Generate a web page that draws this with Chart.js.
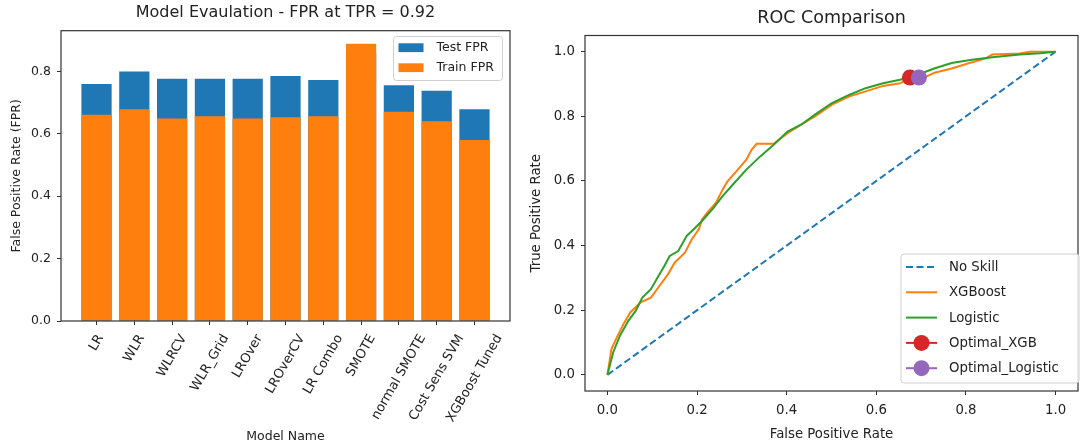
<!DOCTYPE html>
<html>
<head>
<meta charset="utf-8">
<script src="https://cdn.jsdelivr.net/npm/chart.js@4.4.1/dist/chart.umd.min.js"></script>
<style>
  html, body { margin: 0; padding: 0; background: #fff; }
  #wrap { position: relative; width: 1086px; height: 448px; overflow: hidden; }
  #fpr { position: absolute; left: 0; top: 0; }
  #roc { position: absolute; left: 520px; top: 0; }
</style>
</head>
<body>
<div id="wrap">
  <canvas id="fpr" width="520" height="448"></canvas>
  <canvas id="roc" width="566" height="448"></canvas>
</div>
<script>
// ---- data: left panel (FPR at TPR = 0.92) ----
const modelNames = ['LR','WLR','WLRCV','WLR_Grid','LROver','LROverCV','LR Combo','SMOTE','normal SMOTE','Cost Sens SVM','XGBoost Tuned'];
const testFpr  = [0.759,0.799,0.776,0.776,0.776,0.785,0.772,0.860,0.755,0.738,0.678];
const trainFpr = [0.661,0.678,0.649,0.656,0.649,0.653,0.656,0.888,0.670,0.640,0.580];
const fprTicks = [0, 0.2, 0.4, 0.6, 0.8];

// ---- data: right panel (ROC) ----
const noSkillFpr = [0, 1];
const noSkillTpr = [0, 1];
const xgbFpr = [0,0.009,0.021,0.036,0.051,0.074,0.097,0.116,0.135,0.150,0.173,0.188,0.204,0.211,0.226,0.242,0.257,0.268,0.291,0.310,
                0.322,0.333,0.371,0.402,0.432,0.463,0.501,0.539,0.576,0.615,0.653,0.675,0.707,0.730,0.768,0.806,0.844,0.859,0.920,0.943,1.0];
const xgbTpr = [0,0.080,0.116,0.157,0.193,0.224,0.239,0.275,0.311,0.347,0.378,0.419,0.450,0.481,0.507,0.532,0.573,0.599,0.635,0.666,
                0.697,0.715,0.715,0.748,0.774,0.800,0.836,0.861,0.877,0.894,0.902,0.918,0.920,0.935,0.948,0.964,0.979,0.991,0.994,1.0,1.0];
const logFpr = [0,0.013,0.028,0.047,0.063,0.078,0.097,0.112,0.127,0.139,0.158,0.177,0.192,0.211,0.234,0.257,0.280,0.310,0.341,0.371,
                0.402,0.432,0.463,0.501,0.539,0.576,0.615,0.653,0.691,0.729,0.768,0.813,0.859,0.920,0.966,1.0];
const logTpr = [0,0.070,0.121,0.168,0.198,0.239,0.265,0.301,0.337,0.368,0.383,0.430,0.450,0.476,0.512,0.553,0.589,0.635,0.676,0.712,
                0.753,0.774,0.805,0.841,0.866,0.887,0.902,0.913,0.928,0.948,0.965,0.975,0.983,0.991,0.995,1.0];
const optXgbFpr = [0.675], optXgbTpr = [0.92];
const optLogFpr = [0.695], optLogTpr = [0.92];
const rocTicks = [0, 0.2, 0.4, 0.6, 0.8, 1.0];

const FAM = "'DejaVu Sans', sans-serif";
const INK = '#222';
const pts = (xs, ys) => xs.map((x, i) => ({x, y: ys[i]}));

// matplotlib-like frame around the plot area
const frame = {
  id: 'frame',
  afterDatasetsDraw(chart) {
    const {ctx, chartArea: a} = chart;
    ctx.save();
    ctx.strokeStyle = '#333';
    ctx.lineWidth = 1.2;
    ctx.strokeRect(a.left, a.top, a.right - a.left, a.bottom - a.top);
    ctx.restore();
  }
};

// title centred over the plot area (like matplotlib), not over the canvas
const axTitle = {
  id: 'axTitle',
  afterDraw(chart, args, o) {
    const {ctx, chartArea: a} = chart;
    ctx.save();
    ctx.font = o.font;
    ctx.fillStyle = INK;
    ctx.textAlign = 'center';
    ctx.textBaseline = 'middle';
    ctx.fillText(o.text, (a.left + a.right) / 2, o.y);
    ctx.restore();
  }
};

// rotated category labels whose bounding box is centred on the tick (ha='center')
const rotLabels = {
  id: 'rotLabels',
  afterDraw(chart, args, o) {
    const s = chart.scales.x, ctx = chart.ctx;
    const ang = o.angle * Math.PI / 180, c = Math.cos(ang), sn = Math.sin(ang);
    ctx.save();
    ctx.font = o.font;
    ctx.fillStyle = INK;
    ctx.textAlign = 'left';
    ctx.textBaseline = 'middle';
    s.ticks.forEach(t => {
      const txt = modelNames[t.value];
      const L = ctx.measureText(txt).width;
      const px = s.getPixelForValue(t.value) - L * c / 2;
      const py = chart.chartArea.bottom + o.gap + L * sn + o.h / 2 * c;
      ctx.save();
      ctx.translate(px, py);
      ctx.rotate(-ang);
      ctx.fillText(txt, 0, 0);
      ctx.restore();
    });
    ctx.restore();
  }
};

// legend box drawn inside the axes, rows follow dataset index order
const boxLegend = {
  id: 'boxLegend',
  afterDraw(chart, args, o) {
    const ctx = chart.ctx;
    ctx.save();
    ctx.beginPath();
    ctx.roundRect(o.x, o.y, o.w, o.h, 3);
    ctx.fillStyle = 'rgba(255,255,255,0.85)';
    ctx.fill();
    ctx.strokeStyle = '#cfcfcf';
    ctx.lineWidth = 1;
    ctx.stroke();
    ctx.font = o.font;
    ctx.textBaseline = 'middle';
    chart.data.datasets.forEach((ds, i) => {
      const cy = o.y + o.first + i * o.step;
      const hx = o.x + o.hx;
      if (chart.config.type === 'bar') {
        ctx.fillStyle = ds.backgroundColor;
        ctx.fillRect(hx, cy - o.ph / 2, o.hw, o.ph);
      } else {
        ctx.strokeStyle = ds.borderColor;
        ctx.lineWidth = ds.borderWidth;
        ctx.setLineDash(ds.borderDash || []);
        ctx.beginPath();
        ctx.moveTo(hx, cy); ctx.lineTo(hx + o.hw, cy);
        ctx.stroke();
        ctx.setLineDash([]);
        if (ds.pointRadius > 0) {
          ctx.fillStyle = ds.pointBackgroundColor;
          ctx.beginPath();
          ctx.arc(hx + o.hw / 2, cy, ds.pointRadius, 0, Math.PI * 2);
          ctx.fill();
        }
      }
      ctx.fillStyle = INK;
      ctx.fillText(ds.label, o.x + o.tx, cy + 0.5);
    });
    ctx.restore();
  }
};

// ═══════════ left: Model Evaluation bars ═══════════
new Chart(document.getElementById('fpr'), {
  type: 'bar',
  data: {
    datasets: [
      {label: 'Test FPR',  data: pts(modelNames.map((_, i) => i), testFpr),  backgroundColor: '#1f77b4', order: 1},
      {label: 'Train FPR', data: pts(modelNames.map((_, i) => i), trainFpr), backgroundColor: '#ff7f0e', order: 0}
    ]
  },
  options: {
    responsive: false,
    animation: false,
    events: [],
    datasets: {bar: {grouped: false, barPercentage: 0.8, categoryPercentage: 1, borderWidth: 0}},
    layout: {padding: {left: 0, right: 10, top: 30.7, bottom: 0}},
    plugins: {
      legend: {display: false},
      tooltip: {enabled: false},
      title: {display: false},
      axTitle: {text: 'Model Evaulation - FPR at TPR = 0.92', y: 13, font: `16px ${FAM}`},
      rotLabels: {angle: 60, gap: 11, h: 15, font: `13px ${FAM}`},
      boxLegend: {x: 393.5, y: 36.5, w: 109, h: 44, first: 11.2, step: 20, hx: 5, hw: 25, ph: 8.8, tx: 43,
                  font: `12.5px ${FAM}`}
    },
    scales: {
      x: {
        type: 'linear', min: -0.94, max: 10.94, offset: false,
        afterBuildTicks: a => { a.ticks = modelNames.map((_, i) => ({value: i})); },
        afterFit: s => { s.height = 127; },
        ticks: {display: false},
        grid: {drawOnChartArea: false, offset: false, tickLength: 4, color: '#333'},
        border: {display: false},
        title: {display: true, text: 'Model Name', color: INK, font: {family: FAM, size: 12.5},
                padding: {top: 0, bottom: 3.8}}
      },
      y: {
        min: 0, max: 0.93,
        afterBuildTicks: a => { a.ticks = fprTicks.map(v => ({value: v})); },
        afterFit: s => { s.width = 61; },
        ticks: {callback: v => v.toFixed(1), padding: 6, color: INK, font: {family: FAM, size: 12.5}},
        grid: {drawOnChartArea: false, tickLength: 4, color: '#333'},
        border: {display: false},
        title: {display: true, text: 'False Positive Rate (FPR)', color: INK, font: {family: FAM, size: 12.5},
                padding: {top: 9.2, bottom: 0}}
      }
    }
  },
  plugins: [frame, axTitle, rotLabels, boxLegend]
});

// ═══════════ right: ROC comparison ═══════════
new Chart(document.getElementById('roc'), {
  type: 'line',
  data: {
    datasets: [
      {label: 'No Skill', data: pts(noSkillFpr, noSkillTpr), borderColor: '#1f77b4', borderWidth: 2,
       borderDash: [7, 3.5], pointRadius: 0, order: 5},
      {label: 'XGBoost', data: pts(xgbFpr, xgbTpr), borderColor: '#ff7f0e', borderWidth: 2, pointRadius: 0, order: 4},
      {label: 'Logistic', data: pts(logFpr, logTpr), borderColor: '#2ca02c', borderWidth: 2, pointRadius: 0, order: 3},
      {label: 'Optimal_XGB', data: pts(optXgbFpr, optXgbTpr), borderColor: '#d62728', borderWidth: 2,
       pointRadius: 8, pointBackgroundColor: '#d62728', pointBorderWidth: 0, showLine: false, order: 2},
      {label: 'Optimal_Logistic', data: pts(optLogFpr, optLogTpr), borderColor: '#9467bd', borderWidth: 2,
       pointRadius: 8, pointBackgroundColor: '#9467bd', pointBorderWidth: 0, showLine: false, order: 1}
    ]
  },
  options: {
    responsive: false,
    animation: false,
    events: [],
    elements: {line: {tension: 0}},
    layout: {padding: {left: 0, right: 0, top: 35.5, bottom: 0}},
    plugins: {
      legend: {display: false},
      tooltip: {enabled: false},
      title: {display: false},
      axTitle: {text: 'ROC Comparison', y: 18, font: `17.5px ${FAM}`},
      boxLegend: {x: 381, y: 254, w: 178, h: 129, first: 13, step: 25.3, hx: 5, hw: 31, tx: 48,
                  font: `13.3px ${FAM}`}
    },
    scales: {
      x: {
        type: 'linear', min: -0.05, max: 1.05,
        afterBuildTicks: a => { a.ticks = rocTicks.map(v => ({value: v})); },
        afterFit: s => { s.height = 57; },
        ticks: {callback: v => v.toFixed(1), padding: 8, color: INK, font: {family: FAM, size: 13.3}},
        grid: {drawOnChartArea: false, tickLength: 4, color: '#333'},
        border: {display: false},
        title: {display: true, text: 'False Positive Rate', color: INK, font: {family: FAM, size: 13.3},
                padding: {top: 0, bottom: 5}}
      },
      y: {
        type: 'linear', min: -0.05, max: 1.05,
        afterBuildTicks: a => { a.ticks = rocTicks.map(v => ({value: v})); },
        afterFit: s => { s.width = 65; },
        ticks: {callback: v => v.toFixed(1), padding: 6, color: INK, font: {family: FAM, size: 13.3}},
        grid: {drawOnChartArea: false, tickLength: 4, color: '#333'},
        border: {display: false},
        title: {display: true, text: 'True Positive Rate', color: INK, font: {family: FAM, size: 13.3},
                padding: {top: 9, bottom: 0}}
      }
    }
  },
  plugins: [frame, axTitle, boxLegend]
});
</script>
</body>
</html>
